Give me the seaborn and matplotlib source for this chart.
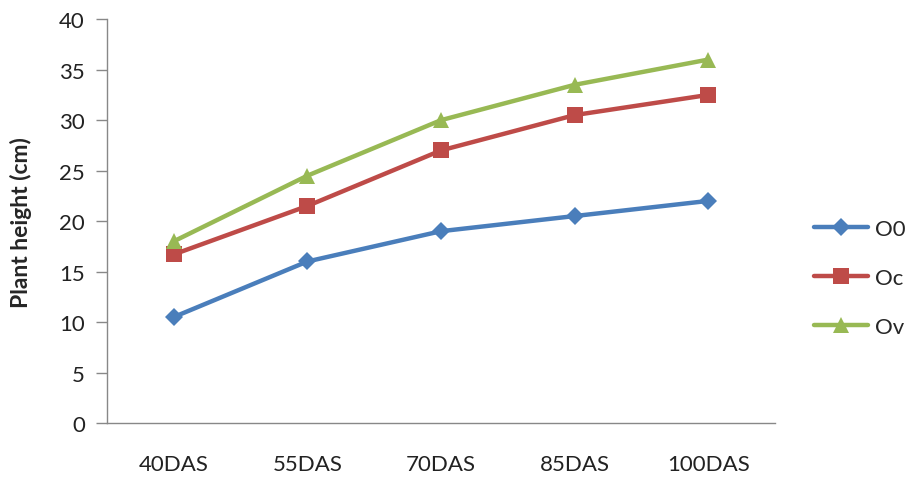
import matplotlib
matplotlib.use("Agg")
import matplotlib.pyplot as plt
import seaborn as sns
import pandas as pd
from matplotlib.lines import Line2D

stages = ["40DAS", "55DAS", "70DAS", "85DAS", "100DAS"]
o0 = [10.5, 16.0, 19.0, 20.5, 22.0]
oc = [16.7, 21.5, 27.0, 30.5, 32.5]
ov = [18.0, 24.5, 30.0, 33.5, 36.0]
series_names = ["O0", "Oc", "Ov"]
y_ticks = [0, 5, 10, 15, 20, 25, 30, 35, 40]

sns.set_theme(style="white")
plt.rcParams["font.family"] = ["Lato", "DejaVu Sans"]

df = pd.DataFrame({
    "stage": stages * 3,
    "height": o0 + oc + ov,
    "series": [n for n in series_names for _ in stages],
})

palette = {"O0": "#4A7EBB", "Oc": "#BE4B48", "Ov": "#98B954"}
markers = {"O0": "D", "Oc": "s", "Ov": "^"}
msize = {"O0": 9, "Oc": 11, "Ov": 12}

fig = plt.figure(figsize=(9.09, 4.81), dpi=100)
ax = fig.add_axes([0.1177, 0.1185, 0.7349, 0.8395])

sns.lineplot(data=df, x="stage", y="height", hue="series", style="series",
             palette=palette, markers=markers, dashes=False, linewidth=3.2,
             markersize=11, markeredgewidth=0, ax=ax, legend=False, sort=False)

for line, name in zip(ax.get_lines(), series_names):
    line.set_markersize(msize[name])

ax.set_xlim(-0.5, 4.5)
ax.set_ylim(0, 40)
ax.set_yticks(y_ticks)
ax.set_xlabel("")
ax.set_ylabel("Plant height (cm)", fontsize=16.5, fontweight="bold")
ax.yaxis.set_label_coords(-0.112, 0.5)

for side in ["top", "right"]:
    ax.spines[side].set_visible(False)
for side in ["left", "bottom"]:
    ax.spines[side].set_color("#888888")
    ax.spines[side].set_linewidth(1.0)

ax.tick_params(axis="y", which="both", left=True, length=8, width=1.0,
               color="#888888", labelsize=16, labelcolor="#222222", pad=8)
ax.tick_params(axis="x", bottom=False, labelsize=16, labelcolor="#222222", pad=16)

handles = [Line2D([], [], color=palette[n], marker=markers[n], lw=3.2,
                  markersize=msize[n], markeredgewidth=0) for n in series_names]
fig.legend(handles, series_names, loc="center left",
           bbox_to_anchor=(0.895, 0.42), frameon=False, fontsize=16,
           handlelength=2.45, handletextpad=0.3, labelspacing=1.3,
           borderpad=0, borderaxespad=0)

fig.savefig("out.png", dpi=100)
